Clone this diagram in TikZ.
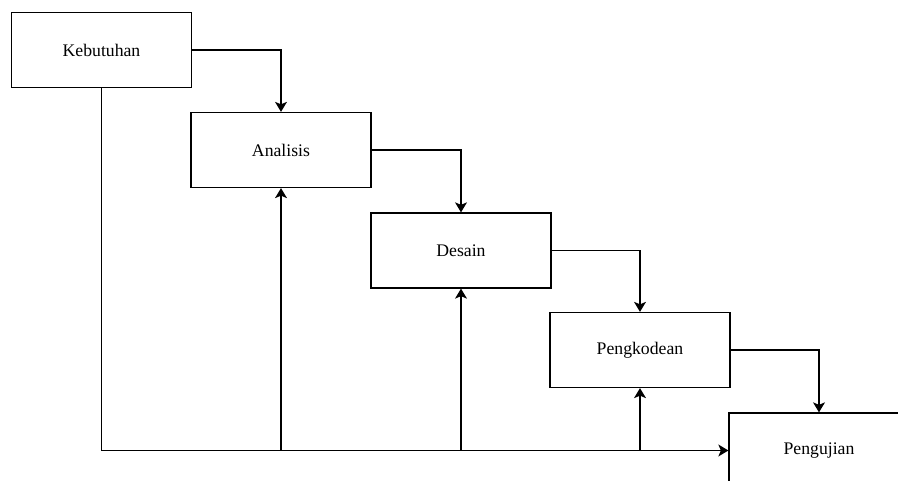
\documentclass[tikz,border=0pt]{standalone}
\usepackage{fontspec}
\setmainfont{Liberation Serif}
\usetikzlibrary{positioning}
\usetikzlibrary{arrows.meta}

\begin{document}
\begin{tikzpicture}[x=1pt,y=-1pt,
 tahap/.style={draw,line width=1.3pt,minimum width=180pt,minimum height=75pt,inner sep=0pt,font=\fontsize{17.7}{20}\selectfont},
 panah/.style={line width=1.3pt,-{Stealth[width=12pt,length=10pt,inset=2.5pt]}}]
 \useasboundingbox (0,0) rectangle (898,481);
 % tahapan waterfall
 \node[tahap] (keb) at (101.5,50) {Kebutuhan};
 \node[tahap] (ana) at (281,150) {Analisis};
 \node[tahap] (des) at (461,250.5) {Desain};
 \node[tahap] (kod) at (640,350) {Pengkodean};
 \node[tahap] (uji) at (819,450.5) {Pengujian};
 % alur turun
 \draw[panah] (keb.east) -| (ana.north);
 \draw[panah] (ana.east) -| (des.north);
 \draw[panah] (des.east) -| (kod.north);
 \draw[panah] (kod.east) -| (uji.north);
 % alur balik
 \draw[panah] (keb.south) |- (uji.west);
 \foreach \n in {ana,des,kod}
  \draw[panah] (\n.south |- uji.west) -- (\n.south);
\end{tikzpicture}
\end{document}
